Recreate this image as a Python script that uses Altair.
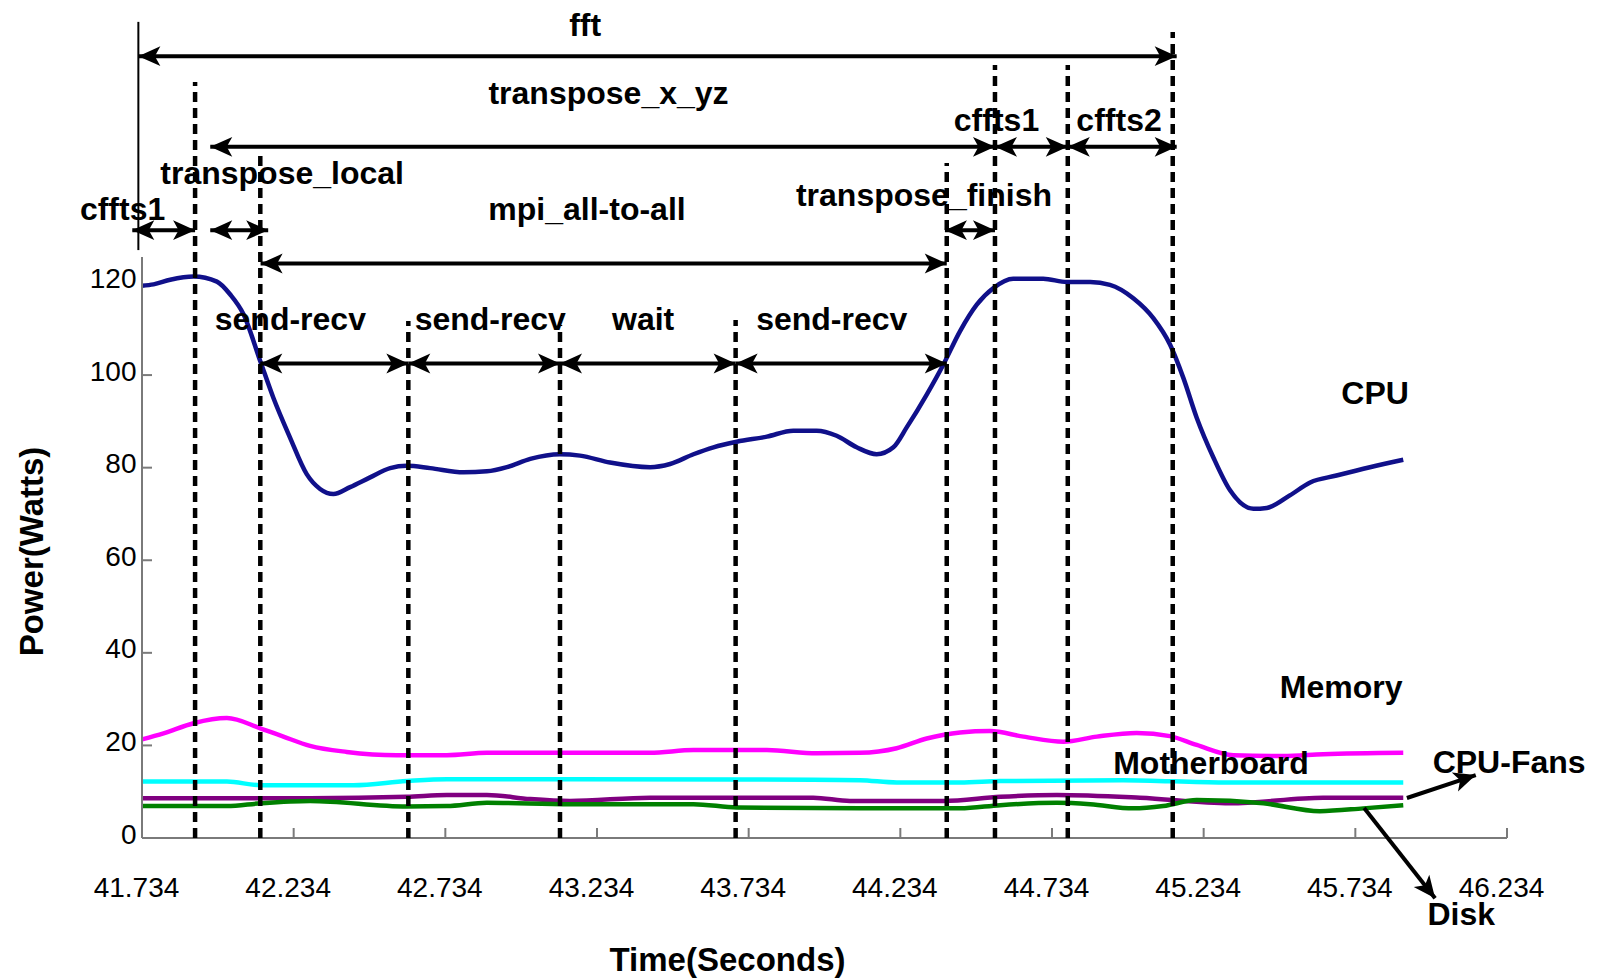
import math
import altair as alt
import pandas as pd

FONT = "Liberation Sans, Arial, sans-serif"

# ---- axes ----
x_ticks = [41.734, 42.234, 42.734, 43.234, 43.734, 44.234, 44.734, 45.234, 45.734, 46.234]
y_ticks = [0, 20, 40, 60, 80, 100, 120]
y_top = 178
y_axis_top = 125.5

# ---- series ----
cpu_t = [41.734, 41.772, 41.827, 41.904, 41.981, 42.025, 42.069, 42.124, 42.167, 42.222,
         42.277, 42.321, 42.365, 42.420, 42.486, 42.552, 42.607, 42.684, 42.794, 42.871,
         42.937, 43.014, 43.112, 43.178, 43.277, 43.409, 43.475, 43.552, 43.618, 43.695,
         43.794, 43.881, 43.958, 44.024, 44.090, 44.156, 44.211, 44.255, 44.321, 44.376,
         44.431, 44.486, 44.541, 44.606, 44.705, 44.783, 44.860, 44.925, 45.002, 45.068,
         45.123, 45.167, 45.211, 45.266, 45.321, 45.398, 45.442, 45.518, 45.585, 45.672,
         45.782, 45.892]
cpu_w = [119.3, 119.6, 120.6, 121.3, 120.2, 117.4, 113.1, 103.0, 95.1, 86.5,
         78.6, 75.4, 74.3, 75.8, 77.9, 79.9, 80.4, 79.9, 79.0, 79.2,
         80.1, 81.9, 82.9, 82.6, 81.1, 80.1, 80.8, 82.9, 84.4, 85.6,
         86.7, 88.0, 88.0, 86.9, 84.4, 82.9, 84.4, 88.7, 95.8, 102.3,
         109.5, 115.2, 118.8, 120.8, 120.8, 120.1, 120.1, 119.5, 116.6, 112.3,
         106.6, 99.4, 90.8, 82.2, 75.1, 71.1, 71.3, 74.0, 76.8, 78.3,
         80.1, 81.7]

mem_t = [41.734, 41.805, 41.904, 42.014, 42.124, 42.200, 42.288, 42.409, 42.574, 42.739,
         42.871, 43.145, 43.409, 43.552, 43.794, 43.958, 44.101, 44.222, 44.321, 44.431,
         44.530, 44.640, 44.772, 44.882, 45.013, 45.123, 45.211, 45.332, 45.497, 45.628,
         45.892]
mem_w = [21.3, 22.6, 24.8, 25.9, 23.7, 21.9, 19.9, 18.6, 17.9, 17.9,
         18.4, 18.4, 18.4, 19.0, 19.0, 18.3, 18.4, 19.4, 21.5, 22.8,
         23.1, 21.9, 20.8, 21.9, 22.7, 22.0, 20.1, 17.9, 17.7, 18.1,
         18.4]

fan_t = [41.734, 42.014, 42.124, 42.431, 42.607, 42.739, 43.145, 43.947, 44.101, 44.222,
         44.431, 44.563, 44.969, 45.299, 45.892]
fan_w = [12.2, 12.2, 11.4, 11.4, 12.3, 12.7, 12.7, 12.6, 12.5, 12.0,
         12.0, 12.3, 12.5, 12.0, 12.0]

mb_t = [41.734, 42.288, 42.607, 42.739, 42.871, 43.014, 43.145, 43.409, 43.947, 44.068,
        44.376, 44.563, 44.750, 45.024, 45.321, 45.628, 45.892]
mb_w = [8.6, 8.6, 8.9, 9.3, 9.3, 8.4, 8.0, 8.7, 8.7, 8.0,
        8.0, 8.9, 9.3, 8.7, 7.5, 8.7, 8.7]

disk_t = [41.734, 42.014, 42.124, 42.288, 42.607, 42.739, 42.871, 43.145, 43.552, 43.695,
          44.101, 44.431, 44.563, 44.750, 44.860, 45.002, 45.101, 45.211, 45.431, 45.617,
          45.760, 45.892]
disk_w = [6.9, 6.9, 7.5, 8.0, 6.8, 6.9, 7.6, 7.3, 7.3, 6.6,
          6.4, 6.4, 7.1, 7.6, 7.3, 6.4, 6.9, 8.2, 7.5, 5.8,
          6.4, 7.1]

series_names = ["Disk", "Motherboard", "CPU-Fans", "Memory", "CPU"]
series_colors = ["#008000", "#800080", "#00ffff", "#ff00ff", "#10108a"]

# ---- phase boundaries (dashed) ----
bound_t = [41.909, 42.124, 42.612, 43.112, 43.691, 44.387, 44.546, 44.786, 45.132]
bound_top = [163.3, 148.6, 111.7, 110.8, 111.9, 145.8, 167.0, 167.0, 174.1]

# ---- span arrows ----
span_t1 = [41.722, 41.959, 44.546, 44.786, 41.702, 41.959, 44.381, 42.125, 42.124, 42.612, 43.112, 43.691]
span_t2 = [45.145, 44.546, 44.786, 45.145, 41.909, 42.150, 44.546, 44.387, 42.612, 43.112, 43.691, 44.387]
span_v = [168.9, 149.3, 149.3, 149.3, 131.3, 131.3, 131.3, 124.1, 102.5, 102.5, 102.5, 102.5]

# fft bracket left edge
bracket_t = [41.722]
bracket_v1 = [127.0]
bracket_v2 = [176.3]

# ---- pointer arrows ----
ptr_t1 = [45.904, 45.763]
ptr_v1 = [8.64, 6.5]
ptr_t2 = [46.131, 45.997]
ptr_v2 = [13.6, -13.0]

# ---- labels ----
label_text = ["fft", "transpose_x_yz", "cffts1", "cffts2", "transpose_local", "cffts1",
              "mpi_all-to-all", "transpose_finish", "send-recv", "send-recv", "wait",
              "send-recv", "CPU", "Memory", "Motherboard", "CPU-Fans", "Disk"]
label_t = [43.195, 43.272, 44.551, 44.955, 42.196, 41.670, 43.201, 44.312, 42.223, 42.882,
           43.386, 44.008, 45.799, 45.687, 45.258, 46.241, 46.083]
label_v = [175.5, 160.7, 154.8, 154.8, 143.5, 135.6, 135.6, 138.7, 111.9, 111.9,
           111.9, 111.9, 96.0, 32.4, 16.0, 16.2, -16.6]

# ---- layout ----
W, H = 1365, 824
PAD = {"left": 134, "top": 6, "right": 86, "bottom": 145}
px_t = W / (x_ticks[-1] - x_ticks[0])
px_v = H / y_top
TICK_PX = 10
HEAD = "M0,0L-1,-0.45L-0.75,0L-1,0.45Z"

xs = alt.Scale(domain=[x_ticks[0], x_ticks[-1]], nice=False, zero=False)
ys = alt.Scale(domain=[0, y_top], nice=False, zero=False)

# ---- data frames ----
rows = []
for name, ts, ws in [("CPU", cpu_t, cpu_w), ("Memory", mem_t, mem_w), ("CPU-Fans", fan_t, fan_w),
                     ("Motherboard", mb_t, mb_w), ("Disk", disk_t, disk_w)]:
    for t, w in zip(ts, ws):
        rows.append({"series": name, "t": t, "w": w})
series_df = pd.DataFrame(rows)

bounds_df = pd.DataFrame({"t": bound_t, "v1": [0] * len(bound_t), "v2": bound_top})
spans_df = pd.DataFrame({"t1": span_t1, "t2": span_t2, "v": span_v})
bracket_df = pd.DataFrame({"t": bracket_t, "v1": bracket_v1, "v2": bracket_v2})
ptr_df = pd.DataFrame({"t1": ptr_t1, "v1": ptr_v1, "t2": ptr_t2, "v2": ptr_v2})

heads = []
for a, b, v in zip(span_t1, span_t2, span_v):
    heads.append({"t": a, "v": v, "ang": 180})
    heads.append({"t": b, "v": v, "ang": 0})
for a, va, b, vb in zip(ptr_t1, ptr_v1, ptr_t2, ptr_v2):
    ang = math.degrees(math.atan2(-(vb - va) * px_v, (b - a) * px_t)) % 360
    heads.append({"t": b, "v": vb, "ang": ang})
heads_df = pd.DataFrame(heads)

labels_df = pd.DataFrame({"label": label_text, "t": label_t, "v": label_v})

xaxis_df = pd.DataFrame({"t1": [x_ticks[0]], "t2": [x_ticks[-1]], "v": [0]})
yaxis_df = pd.DataFrame({"t": [x_ticks[0]], "v1": [0], "v2": [y_axis_top]})
xtick_df = pd.DataFrame({"t": x_ticks[1:], "v1": [0] * (len(x_ticks) - 1),
                         "v2": [TICK_PX / px_v] * (len(x_ticks) - 1)})
ytick_df = pd.DataFrame({"v": y_ticks[1:-1], "t1": [x_ticks[0]] * (len(y_ticks) - 2),
                         "t2": [x_ticks[0] + TICK_PX / px_t] * (len(y_ticks) - 2)})

# ---- axes (shared by every layer) ----
x_axis = alt.Axis(values=x_ticks, format=".3f", title="Time(Seconds)", grid=False, ticks=False,
                  domain=False, labelFont=FONT, labelFontSize=28, labelColor="black",
                  labelPadding=36, labelOffset=-6, labelFlush=False, labelOverlap=False,
                  titleFont=FONT, titleFontSize=33, titleFontWeight="bold", titleColor="black",
                  titleX=585, titleY=122, titleBaseline="middle", titleAlign="center")
y_axis = alt.Axis(values=y_ticks, format="d", title="Power(Watts)", grid=False, ticks=False,
                  domain=False, labelFont=FONT, labelFontSize=28, labelColor="black",
                  labelPadding=6, labelOffset=-3, labelOverlap=False,
                  titleFont=FONT, titleFontSize=33, titleFontWeight="bold", titleColor="black",
                  titleX=-110, titleY=537, titleBaseline="middle", titleAlign="center",
                  titleAngle=270)


def X(field):
    return alt.X(field, type="quantitative", scale=xs, axis=x_axis)


def Y(field):
    return alt.Y(field, type="quantitative", scale=ys, axis=y_axis)


# ---- layers ----
lines = alt.Chart(series_df).mark_line(strokeWidth=4.5, interpolate="monotone").encode(
    x=X("t"), y=Y("w"),
    color=alt.Color("series:N", scale=alt.Scale(domain=series_names, range=series_colors), legend=None),
)

AX_COLOR = "#7a7a7a"
xaxis_line = alt.Chart(xaxis_df).mark_rule(color=AX_COLOR, strokeWidth=2).encode(
    x=X("t1"), x2="t2:Q", y=Y("v"))
yaxis_line = alt.Chart(yaxis_df).mark_rule(color=AX_COLOR, strokeWidth=2).encode(
    x=X("t"), y=Y("v1"), y2="v2:Q")
xtick_lines = alt.Chart(xtick_df).mark_rule(color=AX_COLOR, strokeWidth=2).encode(
    x=X("t"), y=Y("v1"), y2="v2:Q")
ytick_lines = alt.Chart(ytick_df).mark_rule(color=AX_COLOR, strokeWidth=2).encode(
    x=X("t1"), x2="t2:Q", y=Y("v"))

bounds = alt.Chart(bounds_df).mark_rule(color="black", strokeWidth=4.5, strokeDash=[10, 6]).encode(
    x=X("t"), y=Y("v1"), y2="v2:Q")

spans = alt.Chart(spans_df).mark_rule(color="black", strokeWidth=4).encode(
    x=X("t1"), x2="t2:Q", y=Y("v"))

bracket = alt.Chart(bracket_df).mark_rule(color="black", strokeWidth=2).encode(
    x=X("t"), y=Y("v1"), y2="v2:Q")

pointers = alt.Chart(ptr_df).mark_rule(color="black", strokeWidth=4).encode(
    x=X("t1"), x2="t2:Q", y=Y("v1"), y2="v2:Q")

arrowheads = alt.Chart(heads_df).mark_point(shape=HEAD, filled=True, size=1936, color="black",
                                            opacity=1, strokeWidth=0).encode(
    x=X("t"), y=Y("v"), angle=alt.Angle("ang:Q", scale=None))

texts = alt.Chart(labels_df).mark_text(font=FONT, fontSize=32, fontWeight="bold", color="black",
                                       align="center", baseline="middle").encode(
    x=X("t"), y=Y("v"), text="label:N")

chart = alt.layer(
    lines, xaxis_line, yaxis_line, xtick_lines, ytick_lines, bounds, spans, bracket,
    pointers, arrowheads, texts
).properties(
    width=W, height=H, padding=PAD, autosize=alt.AutoSizeParams(type="none"),
    background="white"
).configure_view(stroke=None)

chart.save("out.html", embed_options={"renderer": "svg", "actions": False})
